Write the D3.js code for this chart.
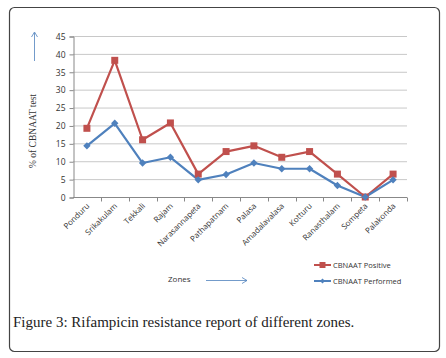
<!DOCTYPE html>
<html>
<head>
<meta charset="utf-8">
<script src="https://cdn.jsdelivr.net/npm/d3@7"></script>
<style>
  body { margin: 0; background: #fff; }
</style>
</head>
<body>
<div id="chart"></div>
<script>
// data
const zones = ["Ponduru", "Srikakulam", "Tekkali", "Rajam", "Narasannapeta", "Pathapatnam",
               "Palasa", "Amadalavalasa", "Kotturu", "Ranasthalam", "Sompeta", "Palakonda"];
const positive = [19.2, 38.2, 16, 20.7, 6.4, 12.7, 14.3, 11.1, 12.7, 6.4, 0, 6.4];
const performed = [14.3, 20.6, 9.5, 11.1, 4.8, 6.3, 9.5, 7.9, 7.9, 3.2, 0, 4.8];
const yTicks = [0, 5, 10, 15, 20, 25, 30, 35, 40, 45];

const width = 446, height = 358;
const margin = {top: 36, left: 73, right: 39, bottom: 161};

const svg = d3.select("#chart")
  .append("svg")
  .attr("width", width)
  .attr("height", height);

// outer frame
svg.append("rect")
  .attr("x", 9.5).attr("y", 7.5)
  .attr("width", 430).attr("height", 344)
  .attr("rx", 5)
  .attr("fill", "none")
  .attr("stroke", "#444")
  .attr("stroke-width", 1.2);

const xScale = d3.scaleBand()
  .domain(zones)
  .range([margin.left, width - margin.right]);

const yScale = d3.scaleLinear()
  .domain([0, 45])
  .range([height - margin.bottom, margin.top]);

const plotRight = width - margin.right;

// gridlines
svg.append("g")
  .selectAll("line")
  .data(yTicks.slice(1))
  .enter()
  .append("line")
  .attr("x1", margin.left).attr("x2", plotRight)
  .attr("y1", d => yScale(d) + 0.5).attr("y2", d => yScale(d) + 0.5)
  .attr("stroke", "#c8c8c8");

// y axis
const yAxis = svg.append("g")
  .attr("transform", "translate(" + (margin.left + 0.5) + ",0.5)")
  .call(d3.axisLeft(yScale).tickValues(yTicks).tickSize(4).tickPadding(4));
yAxis.select(".domain").attr("stroke", "#888");
yAxis.selectAll(".tick line").attr("stroke", "#888");
yAxis.selectAll("text")
  .attr("fill", "#333")
  .style("font-family", "'Open Sans', 'DejaVu Sans', sans-serif")
  .style("font-size", "8.5px");

// x axis with ticks between categories
const xAxisG = svg.append("g")
  .attr("transform", "translate(0," + (yScale(0) + 0.5) + ")");
xAxisG.append("line")
  .attr("x1", margin.left).attr("x2", plotRight)
  .attr("stroke", "#888");
xAxisG.selectAll(".sep")
  .data(zones)
  .enter()
  .append("line")
  .attr("x1", d => Math.round(xScale(d) + xScale.bandwidth()) + 0.5)
  .attr("x2", d => Math.round(xScale(d) + xScale.bandwidth()) + 0.5)
  .attr("y1", 0).attr("y2", 4)
  .attr("stroke", "#888");
xAxisG.selectAll(".lbl")
  .data(zones)
  .enter()
  .append("text")
  .attr("transform", d => "translate(" + (xScale(d) + xScale.bandwidth() / 2 + 3) + ",9) rotate(-45)")
  .attr("text-anchor", "end")
  .attr("fill", "#333")
  .style("font-family", "'Open Sans', 'DejaVu Sans', sans-serif")
  .style("font-size", "8px")
  .text(d => d);

// lines
const cx = (d, i) => xScale(zones[i]) + xScale.bandwidth() / 2;
const line = d3.line()
  .x((d, i) => cx(d, i))
  .y(d => yScale(d));

const series = [
  {name: "CBNAAT Positive", values: positive, color: "#c0504d", marker: "square"},
  {name: "CBNAAT Performed", values: performed, color: "#4f81bd", marker: "diamond"}
];

series.forEach(s => {
  svg.append("path")
    .datum(s.values)
    .attr("fill", "none")
    .attr("stroke", s.color)
    .attr("stroke-width", 2.2)
    .attr("stroke-linejoin", "round")
    .attr("d", line);
});

// markers
series.forEach(s => {
  svg.selectAll(".m-" + s.marker)
    .data(s.values)
    .enter()
    .append("path")
    .attr("transform", (d, i) => "translate(" + cx(d, i) + "," + yScale(d) + ")" + (s.marker === "diamond" ? " rotate(45)" : ""))
    .attr("d", s.marker === "square" ? "M-3.5,-3.5H3.5V3.5H-3.5Z" : "M-2.6,-2.6H2.6V2.6H-2.6Z")
    .attr("fill", s.color);
});

// y axis title and arrow
svg.append("text")
  .attr("transform", "translate(36,131) rotate(-90)")
  .attr("text-anchor", "middle")
  .attr("fill", "#333")
  .style("font-family", "'Liberation Serif', 'DejaVu Serif', serif")
  .style("font-size", "9.5px")
  .text("% of CBNAAT test");

svg.append("line")
  .attr("x1", 34.5).attr("x2", 34.5)
  .attr("y1", 61).attr("y2", 33)
  .attr("stroke", "#4f81bd").attr("stroke-width", 0.8);
svg.append("path")
  .attr("d", "M31.5,37 L34.5,32 L37.5,37")
  .attr("fill", "none")
  .attr("stroke", "#4f81bd").attr("stroke-width", 0.8);

// x axis title and arrow
svg.append("text")
  .attr("x", 168).attr("y", 282)
  .attr("fill", "#333")
  .style("font-family", "'Open Sans', 'DejaVu Sans', sans-serif")
  .style("font-size", "8px")
  .text("Zones");
svg.append("line")
  .attr("x1", 206).attr("x2", 247)
  .attr("y1", 280.5).attr("y2", 280.5)
  .attr("stroke", "#4f81bd").attr("stroke-width", 0.8);
svg.append("path")
  .attr("d", "M242,277.5 L247,280.5 L242,283.5")
  .attr("fill", "none")
  .attr("stroke", "#4f81bd").attr("stroke-width", 0.8);

// legend
const legend = svg.selectAll(".legend")
  .data(series)
  .enter()
  .append("g")
  .attr("transform", (d, i) => "translate(314," + (265 + i * 16) + ")");
legend.append("line")
  .attr("x1", 0).attr("x2", 17)
  .attr("stroke", d => d.color).attr("stroke-width", 2);
legend.append("path")
  .attr("transform", d => "translate(8.5,0)" + (d.marker === "diamond" ? " rotate(45)" : ""))
  .attr("d", d => d.marker === "square" ? "M-3,-3H3V3H-3Z" : "M-1.8,-1.8H1.8V1.8H-1.8Z")
  .attr("fill", d => d.color);
legend.append("text")
  .attr("x", 19).attr("y", 3)
  .attr("fill", "#333")
  .style("font-family", "'Open Sans', 'DejaVu Sans', sans-serif")
  .style("font-size", "7.5px")
  .text(d => d.name);

// caption
const cap = svg.append("text")
  .attr("x", 13).attr("y", 327)
  .attr("fill", "#222")
  .style("font-family", "'Liberation Serif', 'DejaVu Serif', serif")
  .style("font-size", "15px");
cap.append("tspan").text("Figure 3: ");
cap.append("tspan").text("Rifampicin resistance report of different zones.");
</script>
</body>
</html>
